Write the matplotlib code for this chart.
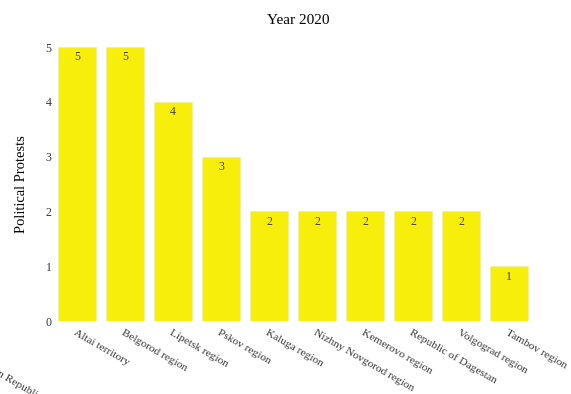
import matplotlib.pyplot as plt
import numpy as np

plt.rcParams['font.family'] = ['Liberation Serif', 'DejaVu Serif']

# data
regions = ["Altai territory", "Belgorod region", "Lipetsk region", "Pskov region",
           "Kaluga region", "Nizhny Novgorod region", "Kemerovo region",
           "Republic of Dagestan", "Volgograd region", "Tambov region"]
protests = [5, 5, 4, 3, 2, 2, 2, 2, 2, 1]
yticks = [0, 1, 2, 3, 4, 5]

bar_colour = "#f7ee0c"

fig = plt.figure(figsize=(5.71, 3.94), dpi=100)
ax = fig.add_axes([53 / 571, 1 - 321 / 394, 480 / 571, 274 / 394])

x = np.arange(len(regions))
ax.bar(x, protests, width=0.79, color=bar_colour, edgecolor="#f3f09a", linewidth=0.8)

# value labels inside the bars
for xi, v in zip(x, protests):
    ax.text(xi, v - 0.08, str(v), ha='center', va='top', fontsize=8.5, color="#444444")

ax.set_xlim(-0.5, len(regions) - 0.5)
ax.set_ylim(0, 5)
ax.set_yticks(yticks)
ax.set_yticklabels([str(t) for t in yticks], fontsize=8.5, color="#333333")
ax.set_xticks(x)
ax.set_xticklabels(regions, rotation=-30, ha='left', va='top', rotation_mode='anchor',
                   fontsize=8.2, color="#333333")
ax.tick_params(axis='both', length=0)
ax.tick_params(axis='y', pad=1)
ax.tick_params(axis='x', pad=5)
for s in ax.spines.values():
    s.set_visible(False)

ax.set_ylabel("Political Protests", fontsize=10.5, labelpad=13)
fig.text(298 / 571, 1 - 21 / 394, "Year 2020", ha='center', va='center', fontsize=11)

# leftover label from the previous frame, cut off at the edge
fig.text(-30 / 571, 1 - 352 / 394, "Chechen Republic", rotation=-30, ha='left', va='top',
         rotation_mode='anchor', fontsize=8.2, color="#333333")

fig.savefig("out.png", dpi=100)
